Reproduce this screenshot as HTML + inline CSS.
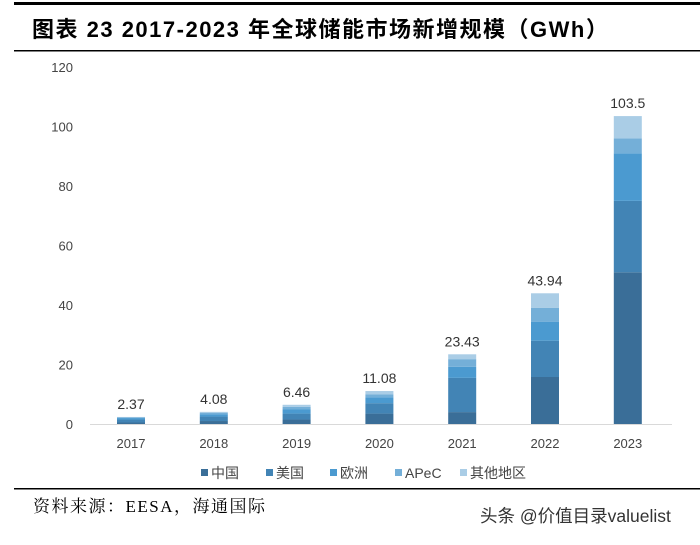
<!DOCTYPE html>
<html><head><meta charset="utf-8"><style>
body{margin:0;width:700px;height:540px;background:#fff;overflow:hidden;font-family:"Liberation Sans","Noto Sans CJK SC",sans-serif}
</style></head><body>
<svg width="700" height="540" xmlns="http://www.w3.org/2000/svg">
<rect x="14" y="2" width="686" height="3" fill="#000"/>
<text x="32" y="37" font-size="22" font-weight="bold" letter-spacing="1.5" font-family="'Liberation Sans','Noto Sans CJK SC',sans-serif">图表 23 2017-2023 年全球储能市场新增规模（GWh）</text>
<rect x="14" y="50" width="686" height="1.5" fill="#000"/>
<g id="yaxis"></g><g id="bars"></g><g id="legend"></g>
<line x1="90" y1="424.5" x2="672" y2="424.5" stroke="#d9d9d9"/>
<rect x="14" y="488" width="686" height="1.5" fill="#000"/>
<text x="33" y="512" font-size="17" letter-spacing="1.5" font-family="'Liberation Serif','Noto Serif CJK SC',serif">资料来源：EESA，海通国际</text>
<text x="480" y="522" font-size="17.5" fill="#333">头条 @价值目录valuelist</text>
</svg>
<script>
const years=["2017","2018","2019","2020","2021","2022","2023"];
const china=[0.5,1,1.5,3.5,4,15.8,51];
const usa=[1,1.5,2,3.5,11.5,12.2,24];
const europe=[0.5,0.8,1.5,2,3.7,6.3,16];
const apec=[0.2,0.4,0.8,1,2.6,4.7,5];
const others=[0.17,0.38,0.66,1.08,1.63,4.94,7.5];
const totals=["2.37","4.08","6.46","11.08","23.43","43.94","103.5"];
const yTicks=[0,20,40,60,80,100,120];
const seriesNames=["中国","美国","欧洲","APeC","其他地区"];
const colors=["#3a6e98","#4284b5","#4b9ad0","#74afd8","#aacde6"];
const NS="http://www.w3.org/2000/svg";
const y=v=>424-v*2.975;
const x=i=>131+i*82.8;
function mk(t,a,p){const e=document.createElementNS(NS,t);for(const k in a)e.setAttribute(k,a[k]);p.appendChild(e);return e;}
const ya=document.getElementById('yaxis');
yTicks.forEach(t=>{const e=mk('text',{x:73,y:y(t)+5,'text-anchor':'end','font-size':13,fill:'#444'},ya);e.textContent=t;

});
const bg=document.getElementById('bars');
const series=[china,usa,europe,apec,others];
years.forEach((yr,i)=>{let base=0;
series.forEach((s,k)=>{const r=mk('rect',{x:x(i)-14,y:y(base+s[i]),width:28,height:y(base)-y(base+s[i]),fill:colors[k]},bg);


base+=s[i];});
const l=mk('text',{x:x(i),y:y(base)-8,'text-anchor':'middle','font-size':14,fill:'#333'},bg);l.textContent=totals[i];


const xl=mk('text',{x:x(i),y:448,'text-anchor':'middle','font-size':13,fill:'#444'},bg);xl.textContent=yr;

});
const lg=document.getElementById('legend');
const lx=[201,266,330,395,460];
seriesNames.forEach((n,k)=>{const g=mk('g',{},lg);


mk('rect',{x:lx[k],y:469,width:7,height:7,fill:colors[k]},g);
const t=mk('text',{x:lx[k]+10,y:478,'font-size':14,fill:'#444'},g);t.textContent=n;});
</script>
</body></html>
